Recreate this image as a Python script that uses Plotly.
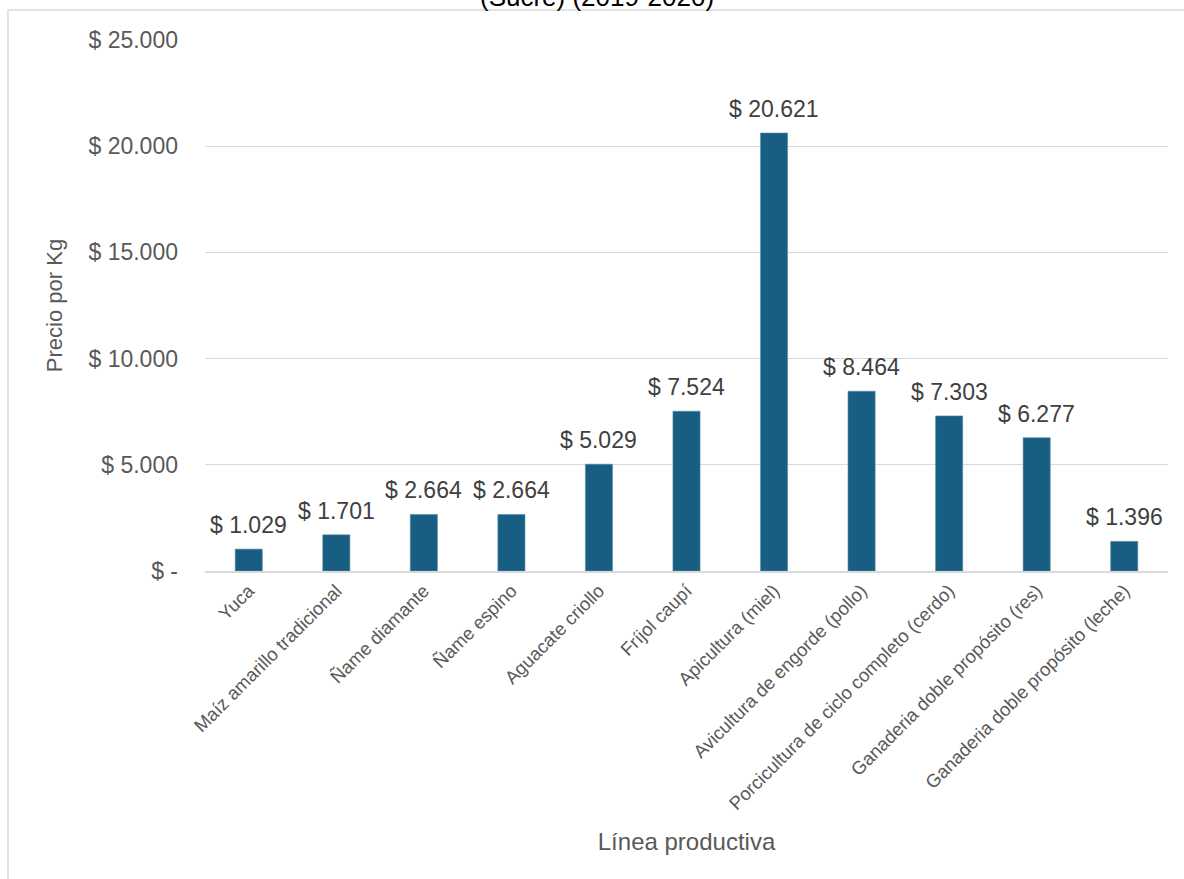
import plotly.graph_objects as go

# Precio promedio por kilogramo según línea productiva
lineas = [
    "Yuca",
    "Maíz amarillo tradicional",
    "Ñame diamante",
    "Ñame espino",
    "Aguacate criollo",
    "Fríjol caupí",
    "Apicultura (miel)",
    "Avicultura de engorde (pollo)",
    "Porcicultura de ciclo completo (cerdo)",
    "Ganaderia doble propósito (res)",
    "Ganaderia doble propósito (leche)",
]
precios = [1029, 1701, 2664, 2664, 5029, 7524, 20621, 8464, 7303, 6277, 1396]

y_ticks = [0, 5000, 10000, 15000, 20000, 25000]
y_tick_text = ["$ -", "$ 5.000", "$ 10.000", "$ 15.000", "$ 20.000", "$ 25.000"]


def pesos(v):
    return "$ " + f"{v:,}".replace(",", ".")


FONT = "Liberation Sans, Arial, sans-serif"
GRAY = "#595959"
GRID = "#D9D9D9"

fig = go.Figure(
    go.Bar(
        x=lineas,
        y=precios,
        width=0.31,
        marker=dict(color="#175E82", line=dict(color="#5A8FAA", width=0.6)),
        hovertemplate="%{x}<br>%{y}<extra></extra>",
    )
)

# Etiquetas de valor sobre cada barra
value_labels = [
    dict(
        x=cat,
        y=val,
        xref="x",
        yref="y",
        text=pesos(val),
        showarrow=False,
        xanchor="center",
        yanchor="bottom",
        yshift=9,
        font=dict(family=FONT, size=23, color="#404040"),
    )
    for cat, val in zip(lineas, precios)
]

fig.update_layout(
    width=1184,
    height=879,
    margin=dict(l=205, r=16, t=40, b=308),
    paper_bgcolor="white",
    plot_bgcolor="white",
    showlegend=False,
    font=dict(family=FONT, color=GRAY),
    xaxis=dict(
        tickangle=-45,
        tickfont=dict(size=18.5, color=GRAY),
        showline=True,
        linecolor=GRID,
        linewidth=1.5,
        ticks="",
        title=dict(text="Línea productiva", font=dict(size=24, color=GRAY), standoff=20),
    ),
    yaxis=dict(
        range=[0, 25000],
        tickvals=y_ticks,
        ticktext=y_tick_text,
        tickfont=dict(size=23, color=GRAY),
        showgrid=True,
        gridcolor=GRID,
        gridwidth=1,
        zeroline=False,
        ticks="",
        ticklabelstandoff=26,
        title=dict(text="Precio por Kg", font=dict(size=22, color=GRAY), standoff=19),
    ),
    shapes=[
        dict(
            type="rect",
            xref="paper",
            yref="paper",
            x0=-197 / 963,
            x1=30 / 963 + 1,
            y0=-400 / 531,
            y1=1 + 30 / 531,
            line=dict(color=GRID, width=1.5),
            layer="below",
        )
    ],
    annotations=[
        dict(
            text="(Sucre) (2019-2020)",
            xref="paper",
            yref="paper",
            x=(597 - 205) / 963,
            y=1,
            yshift=26,
            xanchor="center",
            yanchor="bottom",
            showarrow=False,
            font=dict(family=FONT, size=26, color="#000000"),
        )
    ]
    + value_labels,
)

fig.write_html("out.html")
